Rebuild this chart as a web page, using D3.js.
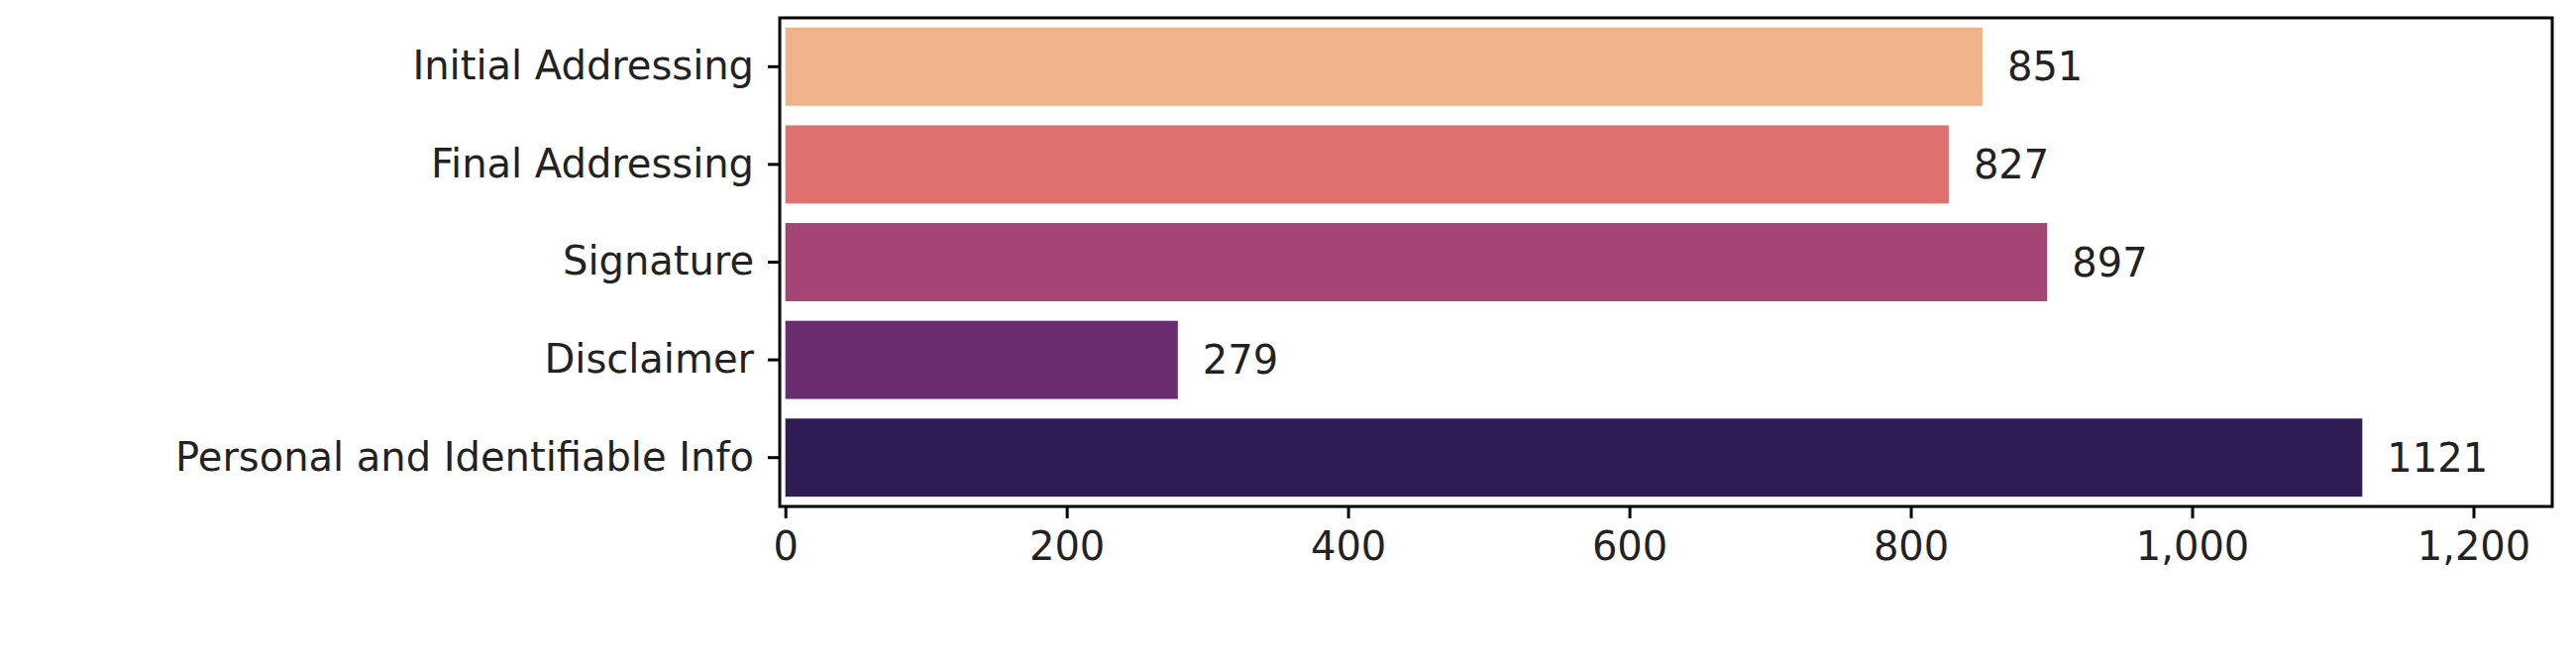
<!DOCTYPE html>
<html><head><meta charset="utf-8">
<script src="https://cdn.jsdelivr.net/npm/d3@7"></script>
<style>body{margin:0;background:#fff}text{font-family:"DejaVu Sans";fill:#222}</style>
</head><body>
<svg id="c" width="2600" height="677"></svg>
<script>
const categories = ["Initial Addressing", "Final Addressing", "Signature", "Disclaimer", "Personal and Identifiable Info"];
const counts = [851, 827, 897, 279, 1121];
const colors = ["#eeb38a", "#df7170", "#a34674", "#6a2c71", "#301c55"];
const xTicks = [0, 200, 400, 600, 800, 1000, 1200];

const mLeft = 787, mRight = 2576, mTop = 18, mBottom = 511;
const svg = d3.select("#c");

const x = d3.scaleLinear().domain([-4, 1256]).range([mLeft, mRight]);
const y = d3.scaleBand().domain(categories).range([mTop, mBottom]).paddingInner(0.2).paddingOuter(0.1);

svg.selectAll("rect.bar")
  .data(categories)
  .enter()
  .append("rect")
  .attr("class", "bar")
  .attr("x", x(0))
  .attr("y", d => y(d))
  .attr("width", (d, i) => x(counts[i]) - x(0))
  .attr("height", y.bandwidth())
  .attr("fill", (d, i) => colors[i]);

svg.selectAll("text.val")
  .data(categories)
  .enter()
  .append("text")
  .attr("class", "val")
  .attr("x", (d, i) => x(counts[i]) + 25)
  .attr("y", d => y(d) + y.bandwidth() / 2)
  .attr("dy", "0.35em")
  .attr("font-size", 40)
  .text((d, i) => counts[i]);

svg.append("rect")
  .attr("x", mLeft).attr("y", mTop)
  .attr("width", mRight - mLeft).attr("height", mBottom - mTop)
  .attr("fill", "none").attr("stroke", "#000").attr("stroke-width", 3);

const xa = svg.append("g").attr("transform", `translate(0,${mBottom})`)
  .call(d3.axisBottom(x).tickValues(xTicks).tickSize(12).tickPadding(14));
const ya = svg.append("g").attr("transform", `translate(${mLeft},0)`)
  .call(d3.axisLeft(y).tickSize(12).tickPadding(14));
[xa, ya].forEach(a => {
  a.select(".domain").remove();
  a.selectAll("line").attr("stroke", "#000").attr("stroke-width", 3);
  a.selectAll("text").attr("font-size", 40).attr("fill", "#222").style("font-family", "DejaVu Sans");
});
</script>
</body></html>
